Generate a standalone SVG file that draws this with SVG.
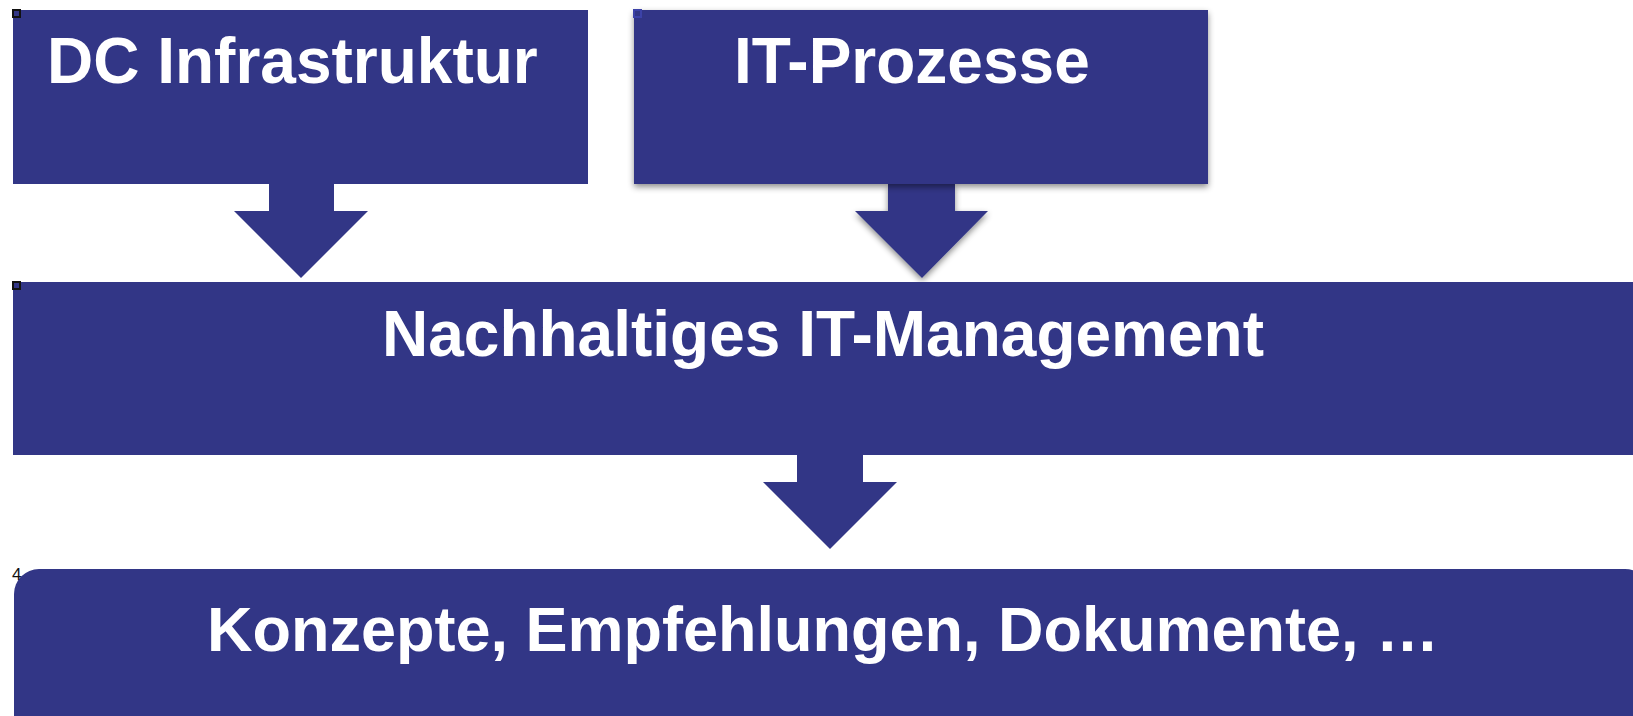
<svg xmlns="http://www.w3.org/2000/svg" width="1633" height="716" viewBox="0 0 1633 716">
  <defs>
    <style>
      .box { fill: #323686; }
      .arrow { fill: #323686; }
      .lbl { font-family: "Liberation Sans", Arial, sans-serif; font-weight: bold; font-size: 64px; fill: #ffffff; }
      .handle { fill: #323686; stroke: #111111; stroke-width: 2; }
    </style>
    <filter id="shadow" x="-10%" y="-10%" width="120%" height="130%">
      <feDropShadow dx="0" dy="3" stdDeviation="3" flood-color="#000000" flood-opacity="0.45"/>
    </filter>
  </defs>
  <rect width="1633" height="716" fill="#ffffff"/>

  <g id="connectors">
    <path class="arrow" d="M269,184 L334,184 L334,211 L368,211 L301,278 L234,211 L269,211 Z"/>
    <path class="arrow" filter="url(#shadow)" d="M888,184 L955,184 L955,211 L988,211 L922,278 L855,211 L888,211 Z"/>
    <path class="arrow" d="M797,455 L863,455 L863,482 L897,482 L830,549 L763,482 L797,482 Z"/>
  </g>

  <g id="node-dc">
    <rect class="box" x="13" y="10" width="575" height="174"/>
    <text class="lbl" x="47" y="83">DC Infrastruktur</text>
    <rect class="handle" x="13" y="10" width="7" height="7"/>
  </g>

  <g id="node-it">
    <rect class="box" filter="url(#shadow)" x="634" y="10" width="574" height="174"/>
    <text class="lbl" x="734" y="83">IT-Prozesse</text>
    <rect x="634" y="10" width="7" height="7" fill="#323686" stroke="#3c42a8" stroke-width="2"/>
  </g>

  <g id="node-mgmt">
    <rect class="box" x="13" y="282" width="1622" height="173"/>
    <text class="lbl" x="823" y="356" text-anchor="middle">Nachhaltiges IT-Management</text>
    <rect class="handle" x="13" y="282" width="7" height="7"/>
  </g>

  <g id="node-konzepte">
    <rect class="box" x="14" y="569" width="1636" height="200" rx="25" ry="25"/>
    <text class="lbl" x="823" y="651" text-anchor="middle" font-size="63" style="font-size:63px">Konzepte, Empfehlungen, Dokumente, …</text>
    <text x="12" y="580" font-family="Liberation Sans, Arial, sans-serif" font-size="17" fill="#111111">4</text>
  </g>
</svg>
